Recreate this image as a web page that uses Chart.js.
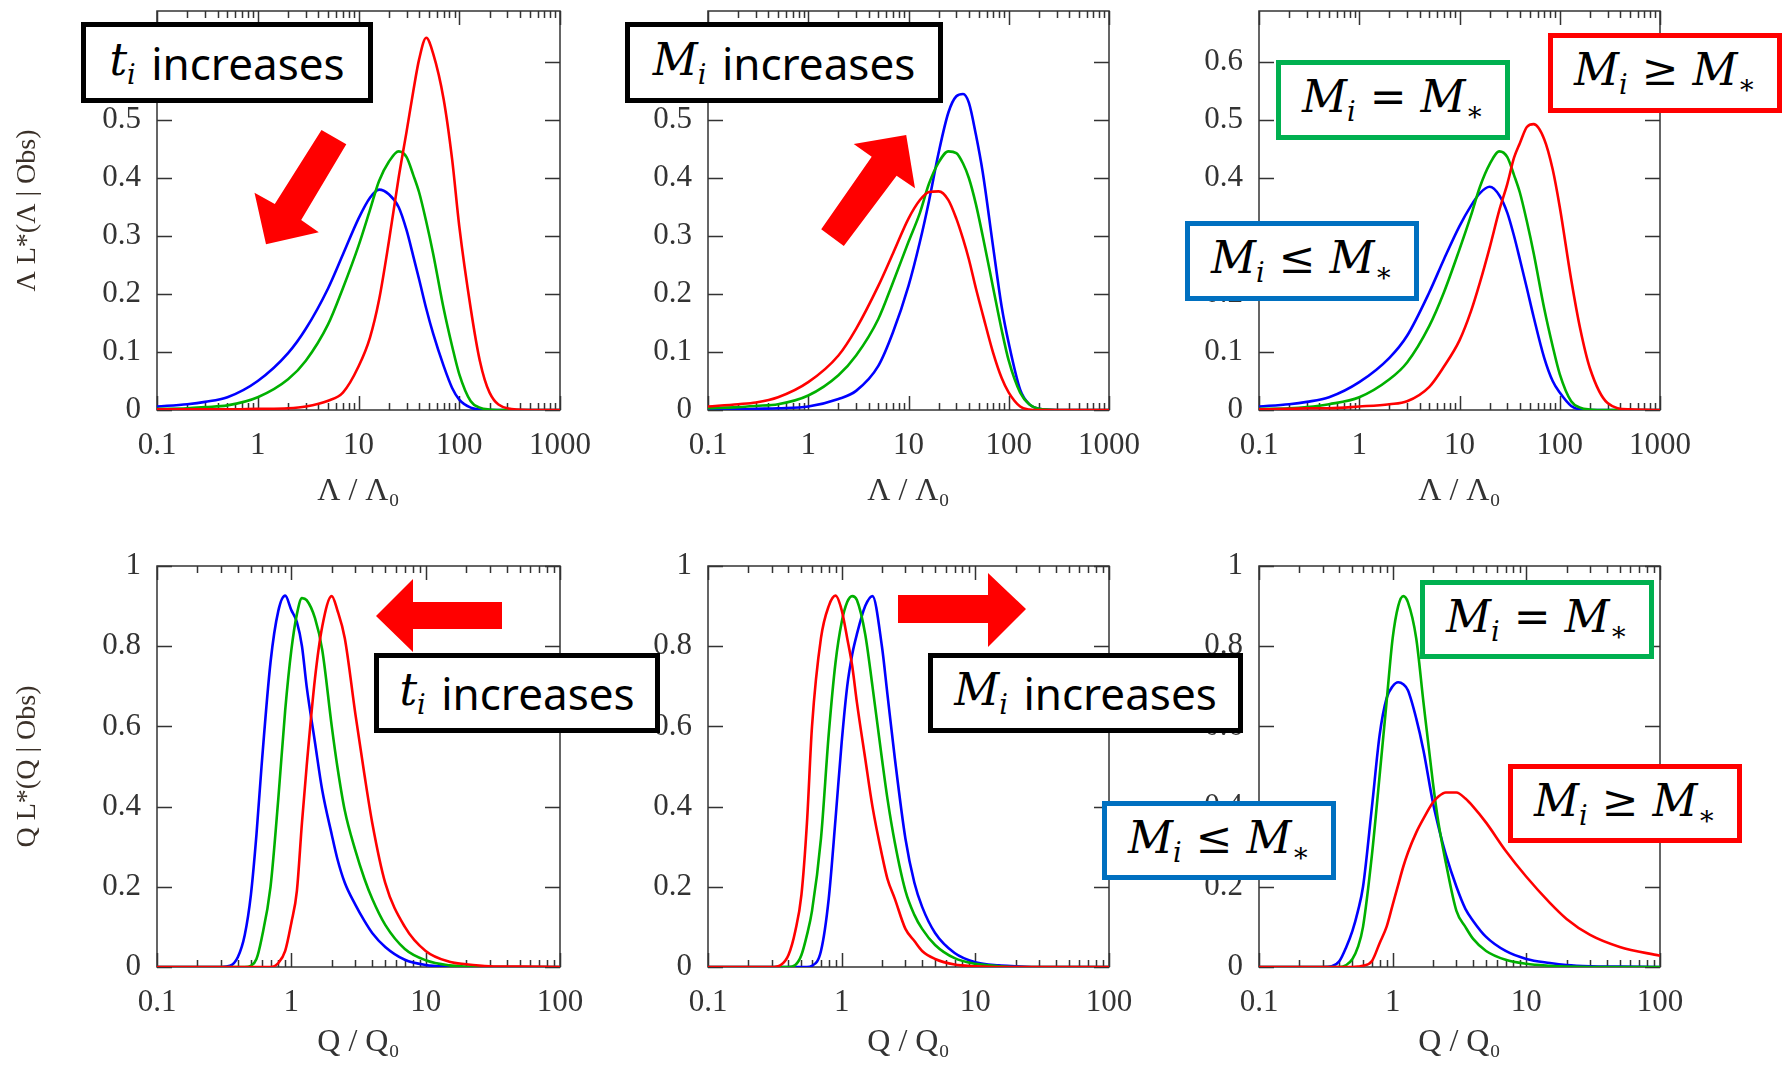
<!DOCTYPE html>
<html>
<head>
<meta charset="utf-8">
<script src="https://cdn.jsdelivr.net/npm/chart.js@4.4.1/dist/chart.umd.min.js"></script>
<style>
  html, body { margin: 0; padding: 0; background: #fff; }
  #fig { position: relative; width: 1787px; height: 1065px; overflow: hidden; }
  #fig canvas { position: absolute; left: 0; top: 0; }
  .box { position: absolute; box-sizing: border-box; border: 5px solid #000; background: #fff;
         display: flex; align-items: center; justify-content: center; line-height: 1;
         font-family: 'Noto Sans', sans-serif; font-size: 44px; color: #000; white-space: nowrap; z-index: 5; }
  .m { font-family: 'DejaVu Serif', serif; font-style: italic; }
  .m sub { font-size: 0.62em; vertical-align: -0.32em; }
  .sp { display: inline-block; width: 0.35em; }
  svg.arrows { position: absolute; left: 0; top: 0; z-index: 4; }
</style>
</head>
<body>
<div id="fig">
  <canvas id="c1" width="1787" height="1065"></canvas>
  <canvas id="c2" width="1787" height="1065"></canvas>
  <canvas id="c3" width="1787" height="1065"></canvas>
  <canvas id="c4" width="1787" height="1065"></canvas>
  <canvas id="c5" width="1787" height="1065"></canvas>
  <canvas id="c6" width="1787" height="1065"></canvas>

  <svg class="arrows" width="1787" height="1065">
    <polygon fill="#ff0000" points="321.5,130 346.3,144.3 301.2,220 318.8,232.3 266,244.3 254.5,192.7 274.8,204"/>
    <polygon fill="#ff0000" points="821.2,229.3 871.7,156.7 853.7,144 906.2,135 915,188.3 896.6,175.7 843.8,246"/>
    <polygon fill="#ff0000" points="376,616 413,579 413,602 502,602 502,629 413,629 413,652"/>
    <polygon fill="#ff0000" points="898,595 988,595 988,573 1026,609 988,647 988,623 898,623"/>
  </svg>

  <div class="box" style="left:81px;top:22px;width:292px;height:81px;"><span class="m">t<sub>i</sub></span><span class="sp"></span>increases</div>
  <div class="box" style="left:625px;top:22px;width:318px;height:81px;"><span class="m">M<sub>i</sub></span><span class="sp"></span>increases</div>
  <div class="box" style="left:1276px;top:60px;width:234px;height:80px;border-color:#00b050;"><span class="m">M<sub>i</sub> = M<sub>∗</sub></span></div>
  <div class="box" style="left:1548px;top:33px;width:234px;height:80px;border-color:#ff0000;"><span class="m">M<sub>i</sub> ≥ M<sub>∗</sub></span></div>
  <div class="box" style="left:1185px;top:221px;width:234px;height:80px;border-color:#0070c0;"><span class="m">M<sub>i</sub> ≤ M<sub>∗</sub></span></div>

  <div class="box" style="left:374px;top:653px;width:286px;height:80px;"><span class="m">t<sub>i</sub></span><span class="sp"></span>increases</div>
  <div class="box" style="left:928px;top:653px;width:315px;height:80px;"><span class="m">M<sub>i</sub></span><span class="sp"></span>increases</div>
  <div class="box" style="left:1420px;top:580px;width:234px;height:79px;border-color:#00b050;"><span class="m">M<sub>i</sub> = M<sub>∗</sub></span></div>
  <div class="box" style="left:1508px;top:764px;width:234px;height:79px;border-color:#ff0000;"><span class="m">M<sub>i</sub> ≥ M<sub>∗</sub></span></div>
  <div class="box" style="left:1102px;top:801px;width:234px;height:79px;border-color:#0070c0;"><span class="m">M<sub>i</sub> ≤ M<sub>∗</sub></span></div>
</div>

<script>
// sample positions (x) for the top row (Lambda / Lambda0) and bottom row (Q / Q0)
const X_TOP = [0.1, 0.2, 0.3, 0.5, 1, 2, 3, 5, 7, 10, 13, 16, 20, 25, 30, 35, 40, 47, 55, 70, 85, 100, 130, 160, 200, 300, 500, 1000];
const X_BOT = [0.1, 0.2, 0.3, 0.35, 0.4, 0.45, 0.5, 0.55, 0.6, 0.7, 0.8, 0.9, 1, 1.1, 1.2, 1.3, 1.5, 1.7, 2, 2.2, 2.5, 3, 3.5, 4, 5, 7, 10, 15, 20, 30, 50, 100];

const X_TICKS_TOP = [0.1, 1, 10, 100, 1000];
const X_TICKS_BOT = [0.1, 1, 10, 100];
const Y_TICKS_TOP = [0, 0.1, 0.2, 0.3, 0.4, 0.5, 0.6];
const Y_TICKS_BOT = [0, 0.2, 0.4, 0.6, 0.8, 1];

// top row: t_i increases
const p1Red   = [0.001,0.001,0.001,0.001,0.002,0.003,0.006,0.016,0.030,0.075,0.125,0.190,0.290,0.400,0.480,0.550,0.605,0.642,0.615,0.536,0.432,0.317,0.175,0.085,0.030,0.003,0,0];
const p1Green = [0.002,0.003,0.005,0.008,0.022,0.053,0.085,0.148,0.210,0.283,0.345,0.395,0.428,0.446,0.436,0.405,0.375,0.325,0.270,0.175,0.110,0.062,0.015,0.004,0.001,0,0,0];
const p1Blue  = [0.006,0.010,0.014,0.022,0.050,0.098,0.140,0.210,0.268,0.330,0.366,0.380,0.372,0.350,0.310,0.265,0.225,0.175,0.132,0.076,0.038,0.018,0.004,0.001,0,0,0,0];

// top row: M_i increases
const p2Red   = [0.006,0.010,0.013,0.022,0.048,0.094,0.140,0.214,0.270,0.330,0.362,0.376,0.377,0.362,0.330,0.295,0.260,0.210,0.165,0.098,0.055,0.030,0.006,0.001,0,0,0,0];
const p2Green = [0.003,0.005,0.007,0.010,0.025,0.060,0.094,0.157,0.220,0.290,0.340,0.390,0.427,0.446,0.443,0.425,0.400,0.355,0.300,0.210,0.138,0.085,0.030,0.010,0.002,0,0,0];
const p2Blue  = [0.001,0.001,0.002,0.003,0.006,0.019,0.033,0.076,0.134,0.214,0.290,0.360,0.444,0.513,0.541,0.545,0.530,0.475,0.410,0.280,0.178,0.115,0.035,0.010,0.002,0,0,0];

// top row: M_i vs M_*
const p3Red   = [0.001,0.002,0.003,0.003,0.006,0.010,0.015,0.040,0.075,0.120,0.170,0.220,0.280,0.345,0.390,0.435,0.460,0.488,0.493,0.467,0.415,0.350,0.225,0.140,0.072,0.012,0.001,0];
const p3Green = [0.002,0.003,0.005,0.010,0.022,0.053,0.082,0.145,0.203,0.277,0.335,0.385,0.424,0.446,0.436,0.405,0.375,0.325,0.270,0.175,0.110,0.062,0.015,0.004,0.001,0,0,0];
const p3Blue  = [0.006,0.010,0.014,0.022,0.048,0.090,0.128,0.203,0.260,0.317,0.352,0.374,0.385,0.370,0.340,0.300,0.260,0.210,0.160,0.090,0.050,0.030,0.007,0.001,0,0,0,0];

// bottom row: t_i increases
const p4Red   = [0,0,0,0,0,0,0,0,0,0,0.010,0.040,0.110,0.190,0.360,0.500,0.720,0.850,0.925,0.890,0.820,0.630,0.480,0.360,0.210,0.100,0.040,0.013,0.007,0.002,0.001,0];
const p4Green = [0,0,0,0,0,0,0.003,0.020,0.070,0.200,0.420,0.640,0.790,0.880,0.920,0.915,0.870,0.790,0.600,0.500,0.390,0.290,0.220,0.170,0.105,0.045,0.017,0.004,0.001,0,0,0];
const p4Blue  = [0,0,0,0.003,0.025,0.080,0.180,0.330,0.500,0.760,0.888,0.926,0.890,0.860,0.800,0.700,0.560,0.440,0.330,0.270,0.210,0.155,0.115,0.085,0.050,0.018,0.005,0.001,0,0,0,0];

// bottom row: M_i increases
const p5Red   = [0,0,0,0.005,0.030,0.090,0.180,0.360,0.600,0.820,0.900,0.926,0.890,0.820,0.750,0.660,0.520,0.400,0.280,0.220,0.170,0.095,0.065,0.040,0.020,0.006,0.002,0,0,0,0,0];
const p5Green = [0,0,0,0,0,0.005,0.030,0.080,0.140,0.320,0.580,0.760,0.860,0.910,0.925,0.915,0.830,0.700,0.520,0.420,0.310,0.190,0.130,0.095,0.055,0.022,0.008,0.002,0,0,0,0];
const p5Blue  = [0,0,0,0,0,0,0,0,0.003,0.040,0.170,0.370,0.560,0.700,0.780,0.830,0.900,0.925,0.800,0.680,0.520,0.320,0.210,0.150,0.085,0.035,0.012,0.004,0.002,0,0,0];

// bottom row: M_i vs M_*
const p6Red   = [0,0,0,0,0,0,0,0.001,0.003,0.015,0.060,0.100,0.155,0.205,0.250,0.285,0.335,0.370,0.410,0.425,0.435,0.435,0.420,0.400,0.360,0.290,0.225,0.160,0.120,0.080,0.050,0.028];
const p6Green = [0,0,0,0,0,0.005,0.020,0.050,0.100,0.280,0.480,0.660,0.820,0.900,0.925,0.910,0.820,0.660,0.460,0.360,0.260,0.140,0.100,0.070,0.040,0.018,0.008,0.003,0.001,0,0,0];
const p6Blue  = [0,0,0,0.002,0.015,0.050,0.090,0.140,0.200,0.400,0.580,0.670,0.700,0.710,0.705,0.690,0.620,0.540,0.410,0.350,0.280,0.200,0.145,0.115,0.075,0.040,0.020,0.010,0.005,0.002,0.001,0];

const RED = '#ff0000', GREEN = '#00b000', BLUE = '#0000ff';
const AXIS = '#333333';
const W = 1787, H = 1065;
const Y_W = 146;  // width kept for the y axis (labels + title)

// draws the frame and gnuplot style inner ticks on all four sides
const frameTicks = {
  id: 'frameTicks',
  beforeDatasetsDraw(chart) {
    const {ctx, chartArea: a, scales: {x, y}} = chart;
    ctx.save();
    ctx.strokeStyle = AXIS;
    ctx.lineWidth = 1.5;
    ctx.strokeRect(a.left, a.top, a.right - a.left, a.bottom - a.top);
    ctx.beginPath();
    const e0 = Math.round(Math.log10(x.min)), e1 = Math.round(Math.log10(x.max));
    for (let e = e0; e <= e1; e++) {
      for (let m = 1; m <= 9; m++) {
        if (e === e1 && m > 1) break;
        const px = Math.round(x.getPixelForValue(m * Math.pow(10, e))) + 0.5;
        const len = m === 1 ? 14 : 7;
        ctx.moveTo(px, a.bottom); ctx.lineTo(px, a.bottom - len);
        ctx.moveTo(px, a.top); ctx.lineTo(px, a.top + len);
      }
    }
    y.ticks.forEach(t => {
      const py = Math.round(y.getPixelForValue(t.value)) + 0.5;
      ctx.moveTo(a.left, py); ctx.lineTo(a.left + 15, py);
      ctx.moveTo(a.right, py); ctx.lineTo(a.right - 15, py);
    });
    ctx.stroke();
    ctx.restore();
  }
};

function makePanel(p) {
  const xH = p.xH;
  new Chart(document.getElementById(p.id), {
    type: 'line',
    data: {
      datasets: p.series.map(s => ({
        data: p.xs.map((x, i) => ({x: x, y: s.ys[i]})),
        borderColor: s.color,
        borderWidth: 2.6,
        pointRadius: 0,
        fill: false,
        cubicInterpolationMode: 'monotone'
      }))
    },
    options: {
      responsive: false,
      animation: false,
      events: [],
      layout: {
        padding: {left: p.left - Y_W, top: p.top, right: W - p.right, bottom: H - p.bottom - xH}
      },
      plugins: {legend: {display: false}, tooltip: {enabled: false}},
      scales: {
        x: {
          type: 'logarithmic',
          min: p.xTicks[0],
          max: p.xTicks[p.xTicks.length - 1],
          grid: {display: false, drawTicks: false},
          border: {display: false},
          afterBuildTicks: s => { s.ticks = p.xTicks.map(v => ({value: v})); },
          afterFit: s => { s.height = xH; s.paddingLeft = 0; s.paddingRight = 0; },
          ticks: {
            autoSkip: false, maxRotation: 0, padding: 17, color: AXIS,
            font: {family: 'Liberation Serif', size: 31},
            callback: v => String(v)
          },
          title: {
            display: true, text: p.xTitle, color: AXIS, padding: 0,
            font: {family: 'Liberation Serif', size: 32}
          }
        },
        y: {
          type: 'linear',
          min: 0,
          max: p.yMax,
          grid: {display: false, drawTicks: false},
          border: {display: false},
          afterBuildTicks: s => { s.ticks = p.yTicks.map(v => ({value: v})); },
          afterFit: s => { s.width = Y_W; s.paddingTop = 0; s.paddingBottom = 0; },
          ticks: {
            padding: 16, color: AXIS,
            font: {family: 'Liberation Serif', size: 31},
            callback: v => String(Math.round(v * 10) / 10)
          },
          title: {
            display: !!p.yTitle, text: p.yTitle || '', color: '#3a3028', padding: 0,
            font: {family: 'Liberation Serif', size: 28}
          }
        }
      }
    },
    plugins: [frameTicks]
  });
}

const PANELS = [
  {id: 'c1', left: 157, right: 560, top: 11, bottom: 410, xH: 101, xs: X_TOP, xTicks: X_TICKS_TOP, yTicks: Y_TICKS_TOP, yMax: 0.688,
   xTitle: 'Λ / Λ₀', yTitle: 'Λ L*(Λ | Obs)',
   series: [{ys: p1Red, color: RED}, {ys: p1Green, color: GREEN}, {ys: p1Blue, color: BLUE}]},
  {id: 'c2', left: 708, right: 1109, top: 11, bottom: 410, xH: 101, xs: X_TOP, xTicks: X_TICKS_TOP, yTicks: Y_TICKS_TOP, yMax: 0.688,
   xTitle: 'Λ / Λ₀',
   series: [{ys: p2Red, color: RED}, {ys: p2Green, color: GREEN}, {ys: p2Blue, color: BLUE}]},
  {id: 'c3', left: 1259, right: 1660, top: 11, bottom: 410, xH: 101, xs: X_TOP, xTicks: X_TICKS_TOP, yTicks: Y_TICKS_TOP, yMax: 0.688,
   xTitle: 'Λ / Λ₀',
   series: [{ys: p3Red, color: RED}, {ys: p3Green, color: GREEN}, {ys: p3Blue, color: BLUE}]},
  {id: 'c4', left: 157, right: 560, top: 566, bottom: 967, xH: 95, xs: X_BOT, xTicks: X_TICKS_BOT, yTicks: Y_TICKS_BOT, yMax: 1,
   xTitle: 'Q / Q₀', yTitle: 'Q L*(Q | Obs)',
   series: [{ys: p4Red, color: RED}, {ys: p4Green, color: GREEN}, {ys: p4Blue, color: BLUE}]},
  {id: 'c5', left: 708, right: 1109, top: 566, bottom: 967, xH: 95, xs: X_BOT, xTicks: X_TICKS_BOT, yTicks: Y_TICKS_BOT, yMax: 1,
   xTitle: 'Q / Q₀',
   series: [{ys: p5Red, color: RED}, {ys: p5Green, color: GREEN}, {ys: p5Blue, color: BLUE}]},
  {id: 'c6', left: 1259, right: 1660, top: 566, bottom: 967, xH: 95, xs: X_BOT, xTicks: X_TICKS_BOT, yTicks: Y_TICKS_BOT, yMax: 1,
   xTitle: 'Q / Q₀',
   series: [{ys: p6Red, color: RED}, {ys: p6Green, color: GREEN}, {ys: p6Blue, color: BLUE}]}
];

PANELS.forEach(makePanel);
</script>
</body>
</html>
